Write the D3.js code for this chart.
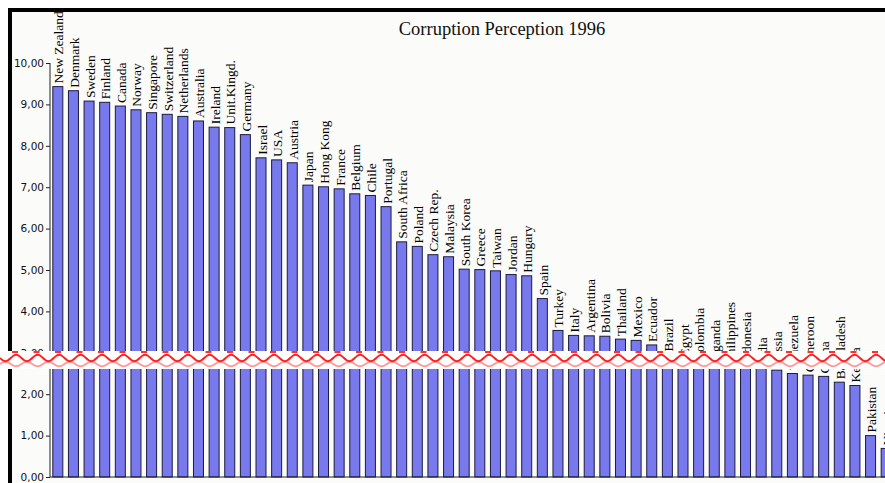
<!DOCTYPE html>
<html>
<head>
<meta charset="utf-8">
<script src="https://cdn.jsdelivr.net/npm/d3@7"></script>
<style>
  body { margin: 0; background: #fff; }
  svg { display: block; }
</style>
</head>
<body>
<div id="chart"></div>
<script>
const countries = ['New Zealand', 'Denmark', 'Sweden', 'Finland', 'Canada', 'Norway', 'Singapore',
  'Switzerland', 'Netherlands', 'Australia', 'Ireland', 'Unit.Kingd.', 'Germany', 'Israel', 'USA',
  'Austria', 'Japan', 'Hong Kong', 'France', 'Belgium', 'Chile', 'Portugal', 'South Africa', 'Poland',
  'Czech Rep.', 'Malaysia', 'South Korea', 'Greece', 'Taiwan', 'Jordan', 'Hungary', 'Spain', 'Turkey',
  'Italy', 'Argentina', 'Bolivia', 'Thailand', 'Mexico', 'Ecuador', 'Brazil', 'Egypt', 'Colombia',
  'Uganda', 'Philippines', 'Indonesia', 'India', 'Russia', 'Venezuela', 'Cameroon', 'China',
  'Bangladesh', 'Kenya', 'Pakistan', 'Nigeria'];

const scores = [9.43, 9.33, 9.08, 9.05, 8.96, 8.87, 8.80, 8.76, 8.71, 8.60, 8.45, 8.44, 8.27, 7.71,
  7.66, 7.59, 7.05, 7.01, 6.96, 6.84, 6.80, 6.53, 5.68, 5.57, 5.37, 5.32, 5.02, 5.01, 4.98, 4.89,
  4.86, 4.31, 3.54, 3.42, 3.41, 3.40, 3.33, 3.30, 3.19, 2.96, 2.84, 2.73, 2.71, 2.69, 2.65, 2.63,
  2.58, 2.50, 2.46, 2.43, 2.29, 2.21, 1.00, 0.69];

const yTicks = [0, 1, 2, 3, 4, 5, 6, 7, 8, 9, 10];

const W = 885;
const H = 483;

const svg = d3.select('#chart').append('svg')
  .attr('width', W)
  .attr('height', H);

// frame: white outside, light panel inside, thick black top/left edges
svg.append('rect').attr('width', W).attr('height', H).attr('fill', '#fff');
svg.append('rect')
  .attr('x', 10).attr('y', 10)
  .attr('width', W - 10).attr('height', H - 10)
  .attr('fill', '#fbfbf9');
svg.append('rect').attr('x', 8).attr('y', 8).attr('width', W - 8).attr('height', 4).attr('fill', '#000');
svg.append('rect').attr('x', 8).attr('y', 8).attr('width', 4).attr('height', H - 8).attr('fill', '#000');

const x = d3.scaleBand()
  .domain(countries)
  .range([50, 894])
  .paddingInner(0.36)
  .paddingOuter(0.18);

const y = d3.scaleLinear()
  .domain([0, 10])
  .range([477, 63]);

const data = countries.map((c, i) => ({ country: c, score: scores[i] }));

svg.append('g')
  .selectAll('rect')
  .data(data)
  .join('rect')
  .attr('x', d => x(d.country))
  .attr('y', d => y(d.score))
  .attr('width', x.bandwidth())
  .attr('height', d => y(0) - y(d.score))
  .attr('fill', '#7979ee')
  .attr('stroke', '#1c1c3c')
  .attr('stroke-width', 1);

svg.append('g')
  .selectAll('text')
  .data(data)
  .join('text')
  .attr('transform', d => `translate(${x(d.country) + x.bandwidth() / 2 + 5.5},${y(d.score) - 3}) rotate(-90)`)
  .attr('font-family', '"Liberation Serif", "Times New Roman", serif')
  .attr('font-size', 13.5)
  .attr('fill', '#000')
  .text(d => d.country);

const yAxis = d3.axisLeft(y)
  .tickValues(yTicks)
  .tickSize(4)
  .tickFormat(d => d3.format('.2f')(d).replace('.', ','));

const gy = svg.append('g')
  .attr('transform', 'translate(50,0)')
  .call(yAxis);
gy.select('.domain').attr('stroke', '#222').attr('d', `M0,${y(10)}V${y(0)}`);
gy.selectAll('.tick line').attr('stroke', '#222');
gy.selectAll('.tick text')
  .attr('x', -6)
  .attr('font-family', '"DejaVu Sans", sans-serif')
  .attr('font-size', 10.5)
  .attr('fill', '#111');

svg.append('line')
  .attr('x1', 50).attr('x2', W)
  .attr('y1', y(0)).attr('y2', y(0))
  .attr('stroke', '#222');

svg.append('text')
  .attr('x', 502)
  .attr('y', 35)
  .attr('text-anchor', 'middle')
  .attr('font-family', '"Liberation Serif", "Times New Roman", serif')
  .attr('font-size', 18.5)
  .attr('fill', '#111')
  .text('Corruption Perception 1996');

// wavy break band
svg.append('rect')
  .attr('x', 0).attr('y', 351)
  .attr('width', W).attr('height', 18)
  .attr('fill', '#fff');

const period = 21.5;
const wave = (cy, amp, phase) => d3.line().curve(d3.curveBasis)(
  d3.range(0, W + period, period / 8).map(px => [px, cy + amp * Math.sin((px / period) * 2 * Math.PI + phase)])
);

svg.append('path')
  .attr('d', wave(364, 2.5, Math.PI))
  .attr('fill', 'none')
  .attr('stroke', '#ff9a9a')
  .attr('stroke-width', 2);

svg.append('path')
  .attr('d', wave(358, 3.5, 0))
  .attr('fill', 'none')
  .attr('stroke', '#ff2020')
  .attr('stroke-width', 2);

svg.append('line')
  .attr('x1', 0).attr('x2', W)
  .attr('y1', 352).attr('y2', 352)
  .attr('stroke', '#ff3030')
  .attr('stroke-width', 2)
  .attr('stroke-dasharray', '6,15.5')
  .attr('stroke-dashoffset', -12);
</script>
</body>
</html>
